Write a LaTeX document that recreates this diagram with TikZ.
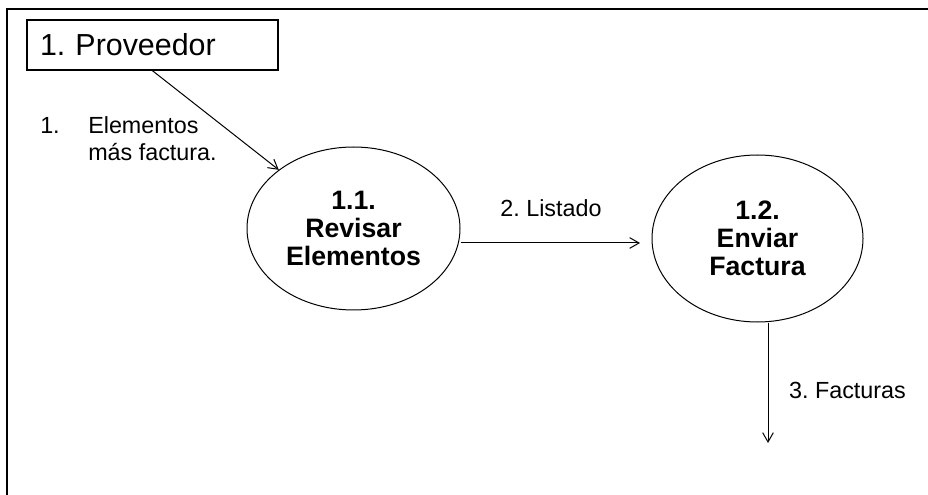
\documentclass[tikz,border=0pt]{standalone}
\usepackage{fontspec}
\setmainfont{Liberation Sans}
\usetikzlibrary{arrows.meta,shapes.geometric}
\frenchspacing

\begin{document}
\begin{tikzpicture}[x=0.75pt,y=-0.75pt,
	flow/.style={-{Straight Barb[length=7pt,width=8pt]},line width=0.75pt},
	proc/.style={draw,ellipse,line width=0.75pt,inner sep=0pt,align=center,font=\bfseries\fontsize{20}{20.8}\selectfont},
	lbl/.style={inner sep=0pt,font=\fontsize{17.5}{20.25}\selectfont}]
	\useasboundingbox (0,0) rectangle (928,495);
	\draw[line width=1.5pt] (928,9) -- (7,9) -- (7,495);
	\node[draw,line width=1.1pt,minimum width=188.25pt,minimum height=37.5pt,inner xsep=9.75pt,text width=168.75pt,align=left,font=\fontsize{22.8}{25}\selectfont] (prov) at (152.5,45) {1. Proveedor};
	\node[proc,minimum width=159.75pt,minimum height=122.25pt] (rev) at (353.5,228.5) {1.1.\\Revisar\\Elementos};
	\node[proc,minimum width=158.25pt,minimum height=125.25pt] (env) at (757.5,238.5) {1.2.\\Enviar\\Factura};
	\coordinate (lst) at (640,243);
	\coordinate (fac) at (768,443);
	\draw[flow] (prov.south) -- (rev);
	\draw[flow] (rev.east |- lst) -- (lst);
	\draw[flow] (env.south -| fac) -- (fac);
	\node[lbl,anchor=west,align=left] (elem) at (40,138.5) {\makebox[36pt][l]{1.}Elementos\\\hspace*{36pt}más factura.};
	\node[lbl] (list) at (551,208) {2. Listado};
	\node[lbl] (facs) at (847.5,390) {3. Facturas};
\end{tikzpicture}
\end{document}
